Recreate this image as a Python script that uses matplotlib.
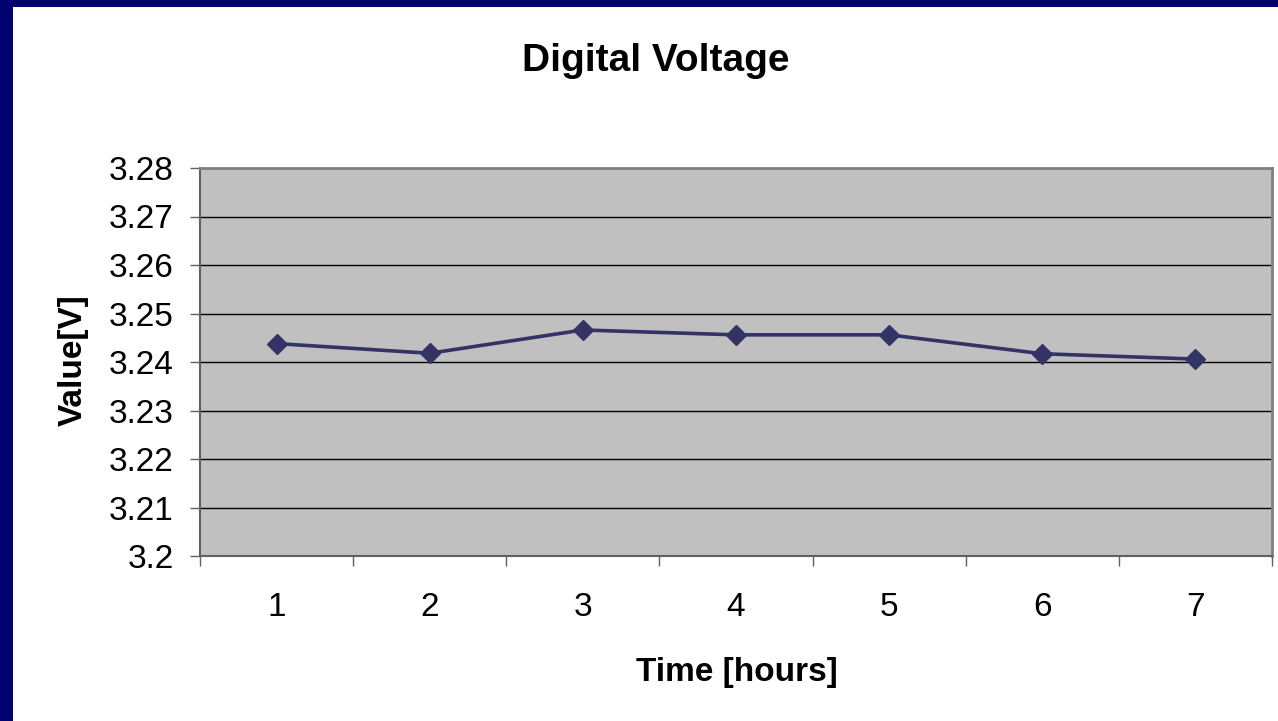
import matplotlib
matplotlib.use("Agg")
import matplotlib.pyplot as plt
from matplotlib.patches import Rectangle

# 数据：每小时读取的数字电压
hours = [1, 2, 3, 4, 5, 6, 7]
voltage = [3.2438, 3.2418, 3.2466, 3.2456, 3.2456, 3.2417, 3.2406]
y_ticks = [3.20, 3.21, 3.22, 3.23, 3.24, 3.25, 3.26, 3.27, 3.28]
y_tick_labels = ["3.2", "3.21", "3.22", "3.23", "3.24", "3.25", "3.26", "3.27", "3.28"]

plt.rcParams['font.family'] = ['Liberation Sans', 'DejaVu Sans']

W, H = 1278, 721
fig = plt.figure(figsize=(W / 100, H / 100), dpi=100)
fig.patch.set_facecolor('white')

# 左边和上边的深蓝色边框
fig.patches.append(Rectangle((0, 0), 13 / W, 1, transform=fig.transFigure,
                             facecolor='#000070', edgecolor='none', zorder=0))
fig.patches.append(Rectangle((0, 1 - 7 / H), 1, 7 / H, transform=fig.transFigure,
                             facecolor='#000070', edgecolor='none', zorder=0))

ax = fig.add_axes([200 / W, (H - 556) / H, (1272 - 200) / W, (556 - 168) / H])
ax.set_facecolor('#C0C0C0')

ax.plot(hours, voltage, color='#333366', lw=2.6, marker='D', markersize=10,
        markerfacecolor='#333366', markeredgecolor='#333366', zorder=3)

ax.set_xlim(0.5, 7.5)
ax.set_ylim(3.20, 3.28)

ax.set_yticks(y_ticks)
ax.set_yticklabels(y_tick_labels, fontsize=24)
ax.tick_params(axis='y', length=7, width=1, color='#606060', pad=12)

ax.set_xticks(hours)
ax.set_xticklabels([str(h) for h in hours], fontsize=24)
ax.set_xticks([h + 0.5 for h in [0] + hours], minor=True)
ax.tick_params(axis='x', which='major', length=0, pad=26)
ax.tick_params(axis='x', which='minor', length=7, width=1, color='#606060')

ax.yaxis.grid(True, color='black', lw=1)
ax.set_axisbelow(True)

for side in ['left', 'bottom']:
    ax.spines[side].set_color('#606060')
    ax.spines[side].set_linewidth(1.5)
for side in ['top', 'right']:
    ax.spines[side].set_color('#808080')
    ax.spines[side].set_linewidth(2)

fig.text(656 / W, 1 - 61 / H, "Digital Voltage", ha='center', va='center',
         fontsize=28, fontweight='bold')
fig.text(737 / W, 1 - 672 / H, "Time [hours]", ha='center', va='center',
         fontsize=24, fontweight='bold')
fig.text(73 / W, 1 - 360 / H, "Value[V]", ha='center', va='center',
         rotation=90, fontsize=24, fontweight='bold')

plt.savefig("out.png", dpi=100)
